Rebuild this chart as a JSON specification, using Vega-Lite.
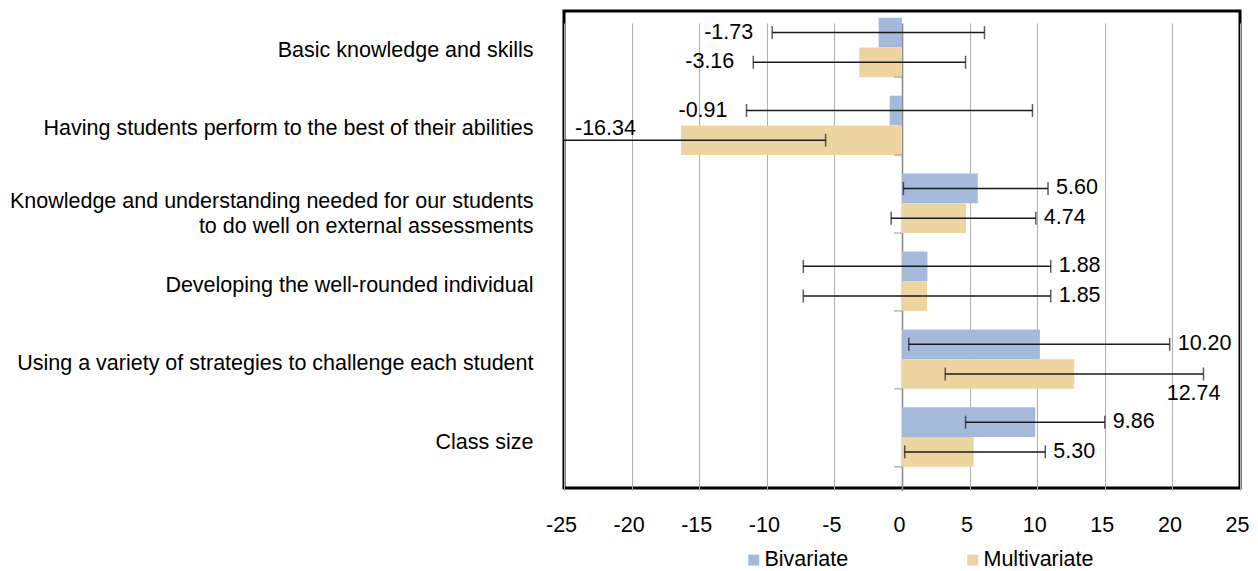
{
  "$schema": "https://vega.github.io/schema/vega-lite/v6.json",
  "width": 676,
  "height": 477,
  "autosize": {"type": "none"},
  "padding": {"left": 564, "top": 11, "right": 18, "bottom": 83},
  "config": {
    "font": "Liberation Sans",
    "view": {"stroke": "#000000", "strokeWidth": 3},
    "axis": {"labelColor": "#000000", "labelFontSize": 21.5, "labelFont": "Liberation Sans"},
    "legend": {"labelFontSize": 21.5, "labelColor": "#000000", "labelFont": "Liberation Sans"}
  },
  "data": {
    "values": [
      {"category": "Basic knowledge and skills", "series": "Bivariate", "value": -1.73, "lo": -9.6, "hi": 6.1},
      {"category": "Basic knowledge and skills", "series": "Multivariate", "value": -3.16, "lo": -11.0, "hi": 4.7},
      {"category": "Having students perform to the best of their abilities", "series": "Bivariate", "value": -0.91, "lo": -11.5, "hi": 9.65},
      {"category": "Having students perform to the best of their abilities", "series": "Multivariate", "value": -16.34, "lo": -27.0, "hi": -5.65},
      {"category": "Knowledge and understanding needed for our students\nto do well on external assessments", "series": "Bivariate", "value": 5.60, "lo": 0.1, "hi": 10.8},
      {"category": "Knowledge and understanding needed for our students\nto do well on external assessments", "series": "Multivariate", "value": 4.74, "lo": -0.8, "hi": 9.9},
      {"category": "Developing the well-rounded individual", "series": "Bivariate", "value": 1.88, "lo": -7.3, "hi": 11.0},
      {"category": "Developing the well-rounded individual", "series": "Multivariate", "value": 1.85, "lo": -7.3, "hi": 11.0},
      {"category": "Using a variety of strategies to challenge each student", "series": "Bivariate", "value": 10.20, "lo": 0.5, "hi": 19.8},
      {"category": "Using a variety of strategies to challenge each student", "series": "Multivariate", "value": 12.74, "lo": 3.2, "hi": 22.3},
      {"category": "Class size", "series": "Bivariate", "value": 9.86, "lo": 4.7, "hi": 15.0},
      {"category": "Class size", "series": "Multivariate", "value": 5.30, "lo": 0.2, "hi": 10.6}
    ]
  },
  "transform": [
    {"calculate": "replace(format(datum.value, '.2f'), '\u2212', '-')", "as": "label"}
  ],
  "encoding": {
    "y": {
      "field": "category",
      "type": "nominal",
      "sort": null,
      "scale": {"range": [-2.5, 465], "paddingInner": 0.2375, "paddingOuter": 0.11875},
      "axis": {
        "title": null,
        "domain": false,
        "ticks": false,
        "labelPadding": 31,
        "labelLimit": 0,
        "labelLineHeight": 25,
        "labelBaseline": "middle",
        "labelExpr": "split(datum.value, '\\n')",
        "labelOffset": {
          "condition": [
            {"test": "datum.value === 'Basic knowledge and skills'", "value": 3.2},
            {"test": "datum.value === 'Having students perform to the best of their abilities'", "value": 3.9},
            {"test": "indexof(datum.value, 'Knowledge and') === 0", "value": -1.6},
            {"test": "datum.value === 'Developing the well-rounded individual'", "value": 4.8},
            {"test": "datum.value === 'Using a variety of strategies to challenge each student'", "value": 4.9}
          ],
          "value": 5.8
        }
      }
    },
    "yOffset": {
      "field": "series",
      "type": "nominal",
      "scale": {"domain": ["Bivariate", "Multivariate"], "paddingInner": 0, "paddingOuter": 0}
    }
  },
  "layer": [
    {
      "mark": {"type": "bar"},
      "encoding": {
        "x": {
          "field": "value",
          "type": "quantitative",
          "scale": {"domain": [-25, 25], "nice": false, "zero": false},
          "axis": {
            "title": null,
            "values": [-25, -20, -15, -10, -5, 0, 5, 10, 15, 20, 25],
            "labelExpr": "replace(datum.label, '\u2212', '-')",
            "grid": true,
            "gridColor": {"condition": {"test": "datum.value === 0", "value": "#8C8C8C"}, "value": "#B0B0B0"},
            "gridWidth": {"condition": {"test": "datum.value === 0", "value": 1.6}, "value": 1},
            "ticks": false,
            "domain": false,
            "labelPadding": 26,
            "labelOffset": -3,
            "labelFlush": false
          }
        },
        "color": {
          "field": "series",
          "type": "nominal",
          "scale": {"domain": ["Bivariate", "Multivariate"], "range": ["#A5B9DA", "#EDD5A2"]},
          "legend": {
            "title": null,
            "orient": "none",
            "legendX": 179,
            "legendY": 538,
            "direction": "horizontal",
            "symbolType": "square",
            "symbolSize": 121,
            "symbolStrokeWidth": 0,
            "labelOffset": 0,
            "columnPadding": 113,
            "padding": 0,
            "labelLimit": 0
          }
        }
      }
    },
    {
      "transform": [{"filter": "datum.series === 'Bivariate'"}],
      "mark": {"type": "tick", "orient": "horizontal", "size": 8, "thickness": 1.5, "color": "#9A9A9A", "xOffset": -4},
      "encoding": {
        "x": {"datum": 0, "type": "quantitative"},
        "y": {"field": "category", "type": "nominal", "sort": null, "bandPosition": 1},
        "yOffset": null
      }
    },
    {
      "mark": {"type": "rule", "color": "#1A1A1A", "strokeWidth": 1.5, "clip": true},
      "encoding": {
        "x": {"field": "lo", "type": "quantitative"},
        "x2": {"field": "hi"}
      }
    },
    {
      "mark": {"type": "tick", "orient": "vertical", "size": 13, "thickness": 1.5, "color": "#1A1A1A", "clip": true},
      "encoding": {"x": {"field": "lo", "type": "quantitative"}}
    },
    {
      "mark": {"type": "tick", "orient": "vertical", "size": 13, "thickness": 1.5, "color": "#1A1A1A", "clip": true},
      "encoding": {"x": {"field": "hi", "type": "quantitative"}}
    },
    {
      "transform": [{"filter": "datum.value < 0 && datum.lo >= -25"}],
      "mark": {"type": "text", "align": "right", "baseline": "middle", "dx": -19, "fontSize": 21.5, "color": "#000000"},
      "encoding": {
        "x": {"field": "lo", "type": "quantitative"},
        "text": {"field": "label", "type": "nominal"}
      }
    },
    {
      "transform": [{"filter": "datum.value > 0 && datum.hi <= 21"}],
      "mark": {"type": "text", "align": "left", "baseline": "middle", "dx": 8, "fontSize": 21.5, "color": "#000000"},
      "encoding": {
        "x": {"field": "hi", "type": "quantitative"},
        "text": {"field": "label", "type": "nominal"}
      }
    },
    {
      "transform": [{"filter": "datum.lo < -25"}],
      "mark": {"type": "text", "align": "left", "baseline": "middle", "dx": 11, "dy": -11, "fontSize": 21.5, "color": "#000000"},
      "encoding": {
        "x": {"datum": -25, "type": "quantitative"},
        "text": {"field": "label", "type": "nominal"}
      }
    },
    {
      "transform": [{"filter": "datum.hi > 21"}],
      "mark": {"type": "text", "align": "right", "baseline": "middle", "dx": 17, "dy": 20, "fontSize": 21.5, "color": "#000000"},
      "encoding": {
        "x": {"field": "hi", "type": "quantitative"},
        "text": {"field": "label", "type": "nominal"}
      }
    }
  ]
}
